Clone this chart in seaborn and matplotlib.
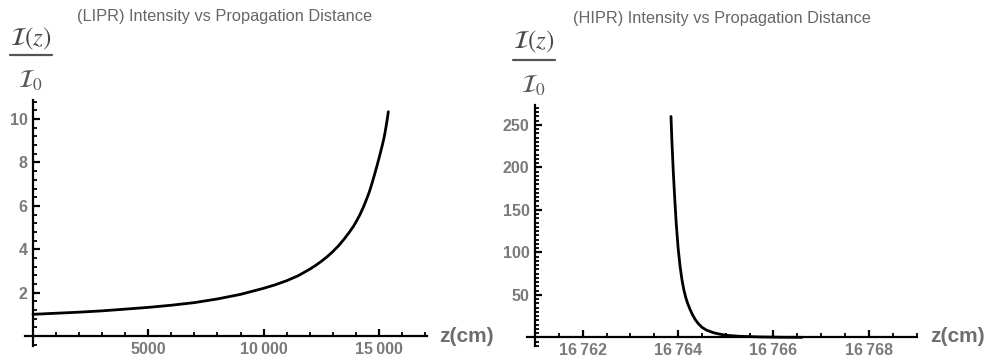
import numpy as np
import pandas as pd
import matplotlib
matplotlib.use("Agg")
import matplotlib.pyplot as plt
import seaborn as sns
from matplotlib.lines import Line2D
from matplotlib.ticker import FixedLocator, MultipleLocator, FixedFormatter

# ---------------- data ----------------
lipr_z = [0, 1000, 2000, 3000, 4000, 5000, 6000, 7000, 8000, 9000, 10000,
          10500, 11000, 11500, 12000, 12250, 12500, 12750, 13000, 13250,
          13500, 13700, 13900, 14050, 14180, 14330, 14470, 14590, 14690,
          14800, 14910, 15050, 15130, 15200, 15260, 15310, 15360, 15410]
lipr_I = [1.00, 1.05, 1.10, 1.16, 1.24, 1.32, 1.42, 1.54, 1.71, 1.92, 2.20,
          2.36, 2.55, 2.78, 3.08, 3.25, 3.44, 3.65, 3.89, 4.16,
          4.48, 4.76, 5.06, 5.34, 5.60, 5.95, 6.32, 6.66, 7.00,
          7.40, 7.82, 8.38, 8.72, 9.03, 9.34, 9.65, 9.98, 10.34]

hipr_z = [16763.85, 16763.87, 16763.90, 16763.93, 16763.96, 16764.00,
          16764.04, 16764.08, 16764.12, 16764.16, 16764.20, 16764.25,
          16764.30, 16764.36, 16764.42, 16764.50, 16764.60, 16764.75,
          16764.90, 16765.05, 16765.30, 16765.70, 16766.20, 16766.60]
hipr_I = [260, 230, 193, 162, 134, 105, 84, 68, 56, 47, 40, 33, 27, 21,
          16.5, 12, 8.5, 5.5, 3.6, 2.4, 1.4, 0.7, 0.3, 0.2]

lipr_xticks = [5000, 10000, 15000]
lipr_xticklabels = ["5000", "10\u2009000", "15\u2009000"]
lipr_yticks = [2, 4, 6, 8, 10]
lipr_yticklabels = ["2", "4", "6", "8", "10"]

hipr_xticks = [16762, 16764, 16766, 16768]
hipr_xticklabels = ["16\u2009762", "16\u2009764", "16\u2009766", "16\u2009768"]
hipr_yticks = [50, 100, 150, 200, 250]
hipr_yticklabels = ["50", "100", "150", "200", "250"]

titles = ["(LIPR) Intensity vs Propagation Distance",
          "(HIPR) Intensity vs Propagation Distance"]
ylabel_num = r"$\mathcal{I}(z)$"
ylabel_den = r"$\mathcal{I}_0$"
xlabel = "z(cm)"

# ---------------- style ----------------
sns.set_style("white")
plt.rcParams["font.family"] = ["Liberation Sans", "DejaVu Sans"]
plt.rcParams["mathtext.fontset"] = "stix"

W, H = 989, 363
fig = plt.figure(figsize=(W / 100, H / 100), dpi=100)

def px_axes(x0, x1, y0, y1):
    return fig.add_axes([x0 / W, 1 - y1 / H, (x1 - x0) / W, (y1 - y0) / H])

tick_color = "#7a7a7a"

def style_axes(ax, xorig, xlim, ylim, xt, xtl, yt, ytl, xminor, yminor):
    ax.set_xlim(*xlim)
    ax.set_ylim(*ylim)
    for s in ["top", "right"]:
        ax.spines[s].set_visible(False)
    ax.spines["left"].set_position(("data", xorig))
    ax.spines["bottom"].set_position(("data", 0))
    for s in ["left", "bottom"]:
        ax.spines[s].set_linewidth(1.6)
        ax.spines[s].set_color("black")
    ax.xaxis.set_major_locator(FixedLocator(xt))
    ax.xaxis.set_major_formatter(FixedFormatter(xtl))
    ax.yaxis.set_major_locator(FixedLocator(yt))
    ax.yaxis.set_major_formatter(FixedFormatter(ytl))
    ax.xaxis.set_minor_locator(MultipleLocator(xminor))
    ax.yaxis.set_minor_locator(MultipleLocator(yminor))
    ax.tick_params(which="both", bottom=True, left=True, top=False, right=False)
    ax.tick_params(which="major", direction="in", length=5, width=1.6,
                   color="black", labelsize=11.5, labelcolor=tick_color, pad=4)
    ax.tick_params(which="minor", direction="in", length=3, width=1.3,
                   color="black")
    for lab in ax.get_xticklabels() + ax.get_yticklabels():
        lab.set_fontweight("bold")
    ax.set_xlabel("")
    ax.set_ylabel("")
    ax.patch.set_alpha(0)

# left panel
ax1 = px_axes(25, 427, 100, 346)
df1 = pd.DataFrame({"z": lipr_z, "I": lipr_I})
sns.lineplot(data=df1, x="z", y="I", ax=ax1, color="black", linewidth=2.0)
style_axes(ax1, 0, (-347, 17086), (-0.46, 10.88),
           lipr_xticks, lipr_xticklabels, lipr_yticks, lipr_yticklabels,
           1000, 0.4)

# right panel
ax2 = px_axes(527, 917, 105, 346)
df2 = pd.DataFrame({"z": hipr_z, "I": hipr_I})
sns.lineplot(data=df2, x="z", y="I", ax=ax2, color="black", linewidth=2.0)
style_axes(ax2, 16761, (16760.83, 16769.01), (-10, 273.5),
           hipr_xticks, hipr_xticklabels, hipr_yticks, hipr_yticklabels,
           0.5, 5)

# titles
fig.text(225 / W, 1 - 16 / H, titles[0], ha="center", va="center",
         fontsize=11.8, color="#666666")
fig.text(722 / W, 1 - 18 / H, titles[1], ha="center", va="center",
         fontsize=11.8, color="#666666")

# y labels (fractions built from numerator, bar and denominator)
def frac_label(xc, y_num, y_bar, y_den, x0, x1):
    fig.text(xc / W, 1 - y_num / H, ylabel_num, ha="center", va="center",
             fontsize=18, color="#4a4a4a")
    fig.text(xc / W, 1 - y_den / H, ylabel_den, ha="center", va="center",
             fontsize=18, color="#5a5a5a")
    fig.add_artist(Line2D([x0 / W, x1 / W], [1 - y_bar / H, 1 - y_bar / H],
                          transform=fig.transFigure, color="#555555", lw=1.6))

frac_label(31, 39, 55, 81, 10, 52)
frac_label(534, 42, 60, 86, 513, 555)

# x labels
fig.text(466 / W, 1 - 337 / H, xlabel, ha="center", va="center",
         fontsize=15, fontweight="bold", color="#6e6e6e")
fig.text(957 / W, 1 - 337 / H, xlabel, ha="center", va="center",
         fontsize=15, fontweight="bold", color="#6e6e6e")

fig.savefig("out.png", dpi=100, facecolor="white")
